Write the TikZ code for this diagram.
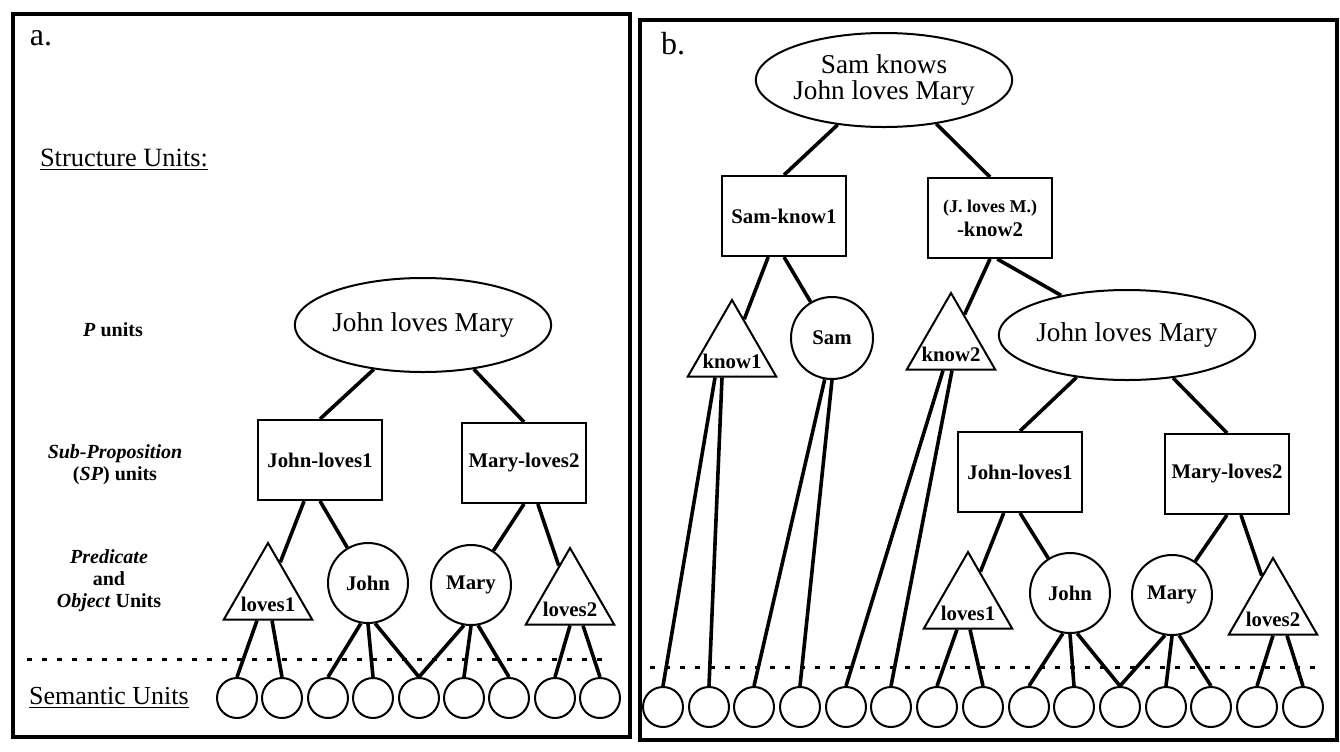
\documentclass[tikz,border=0pt]{standalone}
\usepackage{fontspec}
\setmainfont{Liberation Serif}
\usetikzlibrary{shapes.geometric}

\begin{document}
\begin{tikzpicture}[x=0.5pt,y=-0.5pt,-,thick,
    unit box/.style={rectangle,draw,line width=1pt,minimum width=62pt,minimum height=40pt,inner sep=0pt,font=\bfseries\fontsize{10.4}{12}\selectfont},
    obj node/.style={circle,draw,line width=1pt,minimum size=40pt,inner sep=0pt,font=\bfseries\fontsize{10.4}{12}\selectfont},
    pred node/.style={regular polygon,regular polygon sides=3,draw,line width=1pt,minimum size=51pt,inner xsep=-15pt,inner ysep=-9pt,text height=17pt,text depth=0pt,font=\bfseries\fontsize{10.4}{12}\selectfont},
    prop node/.style={ellipse,draw,line width=1pt,inner sep=0pt,align=center,font=\fontsize{13.6}{13}\selectfont},
    sem node/.style={circle,draw,line width=1pt,minimum size=20pt,inner sep=0pt},
    level label/.style={align=center,font=\bfseries\fontsize{10}{11}\selectfont},
    link/.style={line width=1.8pt}]
    \useasboundingbox (0,0) rectangle (1340,751);

    % frames
    \draw[line width=1.6pt] (13,14) rectangle (630,737);
    \draw[line width=1.6pt] (640,20) rectangle (1337,740);
    \node[font=\fontsize{16}{16}\selectfont] (tagA) at (41,38) {a.};
    \node[font=\fontsize{16}{16}\selectfont] (tagB) at (673,44) {b.};

    % panel a: labels
    \node[font=\fontsize{13.2}{14}\selectfont] (struct) at (124,160) {\underline{Structure Units:}};
    \node[level label] (plab) at (113,330) {\textit{P} units};
    \node[level label] (splab) at (115,465) {\textit{Sub-Proposition}\\(\textit{SP}) units};
    \node[level label] (polab) at (109,581) {\textit{Predicate}\\and\\\textit{Object} Units};
    \node[font=\fontsize{13}{14}\selectfont] (semlab) at (109,698) {\underline{Semantic Units}};

    % panel a: units
    \node[prop node,minimum width=98.5pt,minimum height=47pt] (jlm) at (423,325) {John loves Mary};
    \node[unit box] (jl1) at (320,460) {John-loves1};
    \node[unit box] (ml2) at (524,463) {Mary-loves2};
    \node[pred node] (lv1) at (268,594) {loves1};
    \node[obj node] (john) at (368,583) {John};
    \node[obj node] (mary) at (471,585) {Mary};
    \node[pred node] (lv2) at (570,599) {loves2};
    \foreach \x [count=\i] in {237,282,328,373,419,464,509,555,600}
        \node[sem node] (sa\i) at (\x,698) {};
    \draw[line width=1.5pt,dash pattern=on 2.5pt off 5pt] (27,659) -- (608,659);

    \path[link]
        (jlm.222) edge (jl1.north)
        (jlm.319) edge (ml2.north)
        (jl1) edge (lv1)
        (jl1.south) edge (john)
        (ml2.south) edge (mary)
        (ml2) edge (lv2)
        ([xshift=-5.5pt]lv1.south) edge (sa1.north)
        ([xshift=2pt]lv1.south) edge (sa2.north)
        (john.-100) edge (sa3.north)
        (john.south) edge (sa4.north)
        (john.-80) edge (sa5.north)
        (mary.-100) edge (sa5.north)
        (mary.south) edge (sa6.north)
        (mary.-80) edge (sa7.north)
        (lv2.south) edge (sa8.north)
        ([xshift=6.5pt]lv2.south) edge (sa9.north);

    % panel b: units
    \node[prop node,minimum width=96.5pt,minimum height=47pt] (skjlm) at (884,80) {Sam knows\\John loves Mary};
    \node[unit box] (sk1) at (784,216) {Sam-know1};
    \node[unit box,align=center] (jk2) at (990,218) {{\fontsize{9}{10}\selectfont(J. loves M.)}\\-know2};
    \node[pred node] (kn1) at (732,351) {know1};
    \node[obj node,minimum size=41pt] (sam) at (832,338) {Sam};
    \node[pred node] (kn2) at (951,344) {know2};
    \node[prop node,minimum width=100pt,minimum height=45pt] (jlmb) at (1127,335) {John loves Mary};
    \node[unit box] (jlb) at (1020,472) {John-loves1};
    \node[unit box] (mlb) at (1227,474) {Mary-loves2};
    \node[pred node] (lvb1) at (968,603) {loves1};
    \node[obj node] (johnb) at (1070,593) {John};
    \node[obj node] (maryb) at (1172,595) {Mary};
    \node[pred node] (lvb2) at (1273,609) {loves2};
    \foreach \x [count=\i] in {663,709,754,800,846,891,937,983,1029,1074,1120,1166,1211,1257,1303}
        \node[sem node] (sb\i) at (\x,707) {};
    \draw[line width=1.5pt,dash pattern=on 2.5pt off 5pt] (650,667) -- (1320,667);

    \path[link]
        (skjlm.224) edge (sk1.north)
        (skjlm.320) edge (jk2.north)
        (sk1) edge (kn1)
        (sk1.south) edge (sam)
        (jk2.south) edge (kn2)
        (jk2.-80) edge (jlmb.149)
        (jlmb.220) edge (jlb.north)
        (jlmb.317) edge (mlb.north)
        (jlb) edge (lvb1)
        (jlb.south) edge (johnb)
        (mlb.south) edge (maryb)
        (mlb) edge (lvb2)
        ([xshift=-8.5pt]kn1.south) edge (sb1.north)
        ([xshift=-5pt]kn1.south) edge (sb2.north)
        (sam.-100) edge (sb3.north)
        (sam.south) edge (sb4.north)
        ([xshift=-4pt]kn2.south) edge (sb5.north)
        ([xshift=0.5pt]kn2.south) edge (sb6.north)
        ([xshift=-5.5pt]lvb1.south) edge (sb7.north)
        ([xshift=1pt]lvb1.south) edge (sb8.north)
        (johnb.-100) edge (sb9.north)
        (johnb.south) edge (sb10.north)
        (johnb.-80) edge (sb11.north)
        (maryb.-100) edge (sb11.north)
        (maryb.south) edge (sb12.north)
        (maryb.-80) edge (sb13.north)
        (lvb2.south) edge (sb14.north)
        ([xshift=7pt]lvb2.south) edge (sb15.north);
\end{tikzpicture}
\end{document}
